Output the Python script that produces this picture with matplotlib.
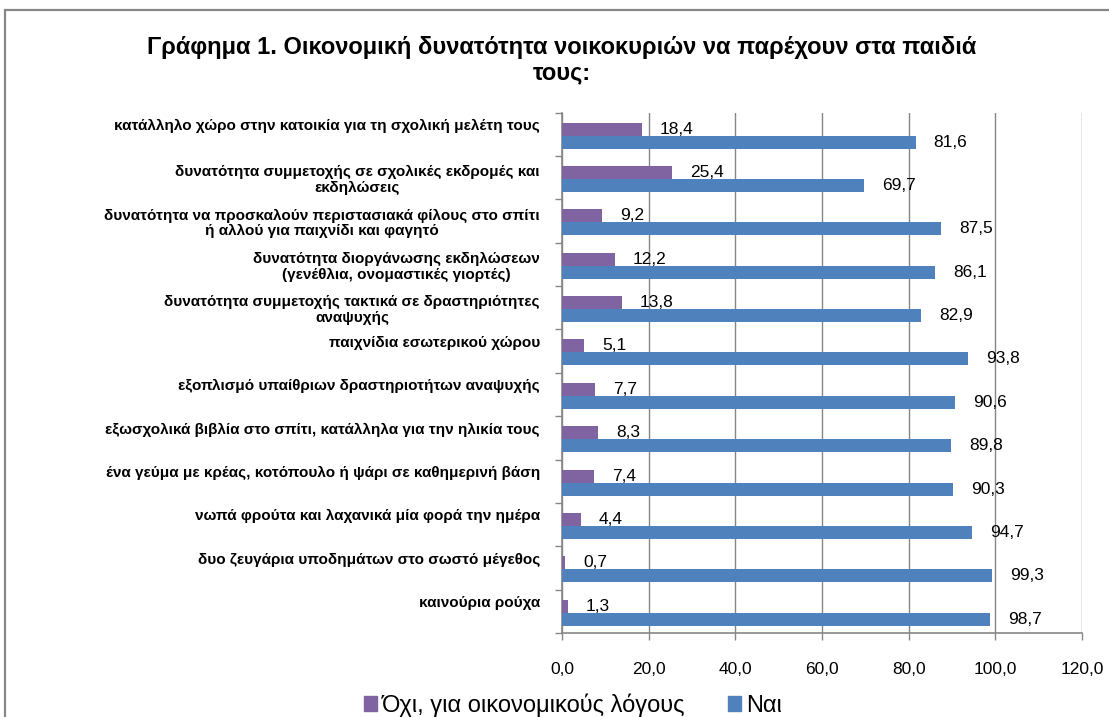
import matplotlib
matplotlib.use("Agg")
import matplotlib.pyplot as plt
from matplotlib.patches import Patch, Rectangle
from matplotlib.transforms import ScaledTranslation
import numpy as np

categories = [
    "κατάλληλο χώρο στην κατοικία για τη σχολική μελέτη τους",
    "δυνατότητα συμμετοχής σε σχολικές εκδρομές και\nεκδηλώσεις",
    "δυνατότητα να προσκαλούν περιστασιακά φίλους στο σπίτι\nή αλλού για παιχνίδι και φαγητό",
    "δυνατότητα διοργάνωσης εκδηλώσεων\n(γενέθλια, ονομαστικές γιορτές)",
    "δυνατότητα συμμετοχής τακτικά σε δραστηριότητες\nαναψυχής",
    "παιχνίδια εσωτερικού χώρου",
    "εξοπλισμό υπαίθριων δραστηριοτήτων αναψυχής",
    "εξωσχολικά βιβλία στο σπίτι, κατάλληλα για την ηλικία τους",
    "ένα γεύμα με κρέας, κοτόπουλο ή ψάρι σε καθημερινή βάση",
    "νωπά φρούτα και λαχανικά μία φορά την ημέρα",
    "δυο ζευγάρια υποδημάτων στο σωστό μέγεθος",
    "καινούρια ρούχα",
]
no_values = [18.4, 25.4, 9.2, 12.2, 13.8, 5.1, 7.7, 8.3, 7.4, 4.4, 0.7, 1.3]
yes_values = [81.6, 69.7, 87.5, 86.1, 82.9, 93.8, 90.6, 89.8, 90.3, 94.7, 99.3, 98.7]
series_names = ["Όχι, για οικονομικούς λόγους", "Ναι"]
x_ticks = [0, 20, 40, 60, 80, 100, 120]
title = "Γράφημα 1. Οικονομική δυνατότητα νοικοκυριών να παρέχουν στα παιδιά\nτους:"

purple = "#8064A2"
blue = "#4F81BD"
grid_gray = "#868686"

FONT = ["Liberation Sans", "DejaVu Sans"]
plt.rcParams["font.family"] = FONT

W, H = 1109, 717
fig = plt.figure(figsize=(W / 100, H / 100), dpi=100)

# outer chart frame
fig.patches.append(Rectangle((5 / W, -0.05), 1.2, 1 - 10 / H + 0.05,
                             transform=fig.transFigure, fill=False,
                             edgecolor="#878787", linewidth=1.6))

left, right = 562 / W, 1082 / W
top, bottom = 1 - 112.7 / H, 1 - 633 / H
ax = fig.add_axes([left, bottom, right - left, top - bottom])

n = len(categories)
ypos = np.arange(n)[::-1]
bh = 0.30
shift = -0.03
ax.barh(ypos + bh / 2 + shift, no_values, height=bh, color=purple, zorder=3)
ax.barh(ypos - bh / 2 + shift, yes_values, height=bh, color=blue, zorder=3)

def fmt(v):
    return f"{v:.1f}".replace(".", ",")

for y, v in zip(ypos, no_values):
    ax.annotate(fmt(v), (v, y + bh / 2 + shift), xytext=(13, 0),
                textcoords="offset points", va="center", ha="left",
                fontsize=12.5, zorder=4)
for y, v in zip(ypos, yes_values):
    ax.annotate(fmt(v), (v, y - bh / 2 + shift), xytext=(13, 0),
                textcoords="offset points", va="center", ha="left",
                fontsize=12.5, zorder=4)

ax.set_xlim(0, 120)
ax.set_ylim(-0.5, n - 0.5)
ax.set_xticks(x_ticks)
ax.set_xticklabels([fmt(t) for t in x_ticks], fontsize=12.5)
ax.set_yticks(ypos)
ax.set_yticklabels(categories, fontsize=11, fontweight="bold", multialignment="center",
                   linespacing=1.15)
ax.set_yticks(np.arange(n + 1) - 0.5, minor=True)
ax.tick_params(axis="y", which="major", length=0, pad=16)
ax.tick_params(axis="y", which="minor", length=5, width=1, color=grid_gray, direction="out")
ax.tick_params(axis="x", which="major", length=5, width=1, color=grid_gray, direction="out", pad=16)

for lab in ax.get_yticklabels():
    if "\n" not in lab.get_text():
        lab.set_transform(lab.get_transform() + ScaledTranslation(0, 7 / 72, fig.dpi_scale_trans))

ax.grid(axis="x", color=grid_gray, linewidth=1, zorder=0)
ax.set_axisbelow(True)
for s in ["top", "right"]:
    ax.spines[s].set_visible(False)
for s in ["left", "bottom"]:
    ax.spines[s].set_color(grid_gray)
    ax.spines[s].set_linewidth(1.2)

fig.text(562 / W, 1 - 60 / H, title, ha="center", va="center", fontsize=17,
         fontweight="bold", linespacing=1.1)

handles = [Patch(color=purple), Patch(color=blue)]
fig.legend(handles, series_names, loc="center", bbox_to_anchor=(573 / W, 1 - 705 / H),
           ncol=2, frameon=False, prop={"size": 17},
           handlelength=0.55, handleheight=0.55, handletextpad=0.2, columnspacing=1.8)

fig.savefig("out.png", dpi=100)
